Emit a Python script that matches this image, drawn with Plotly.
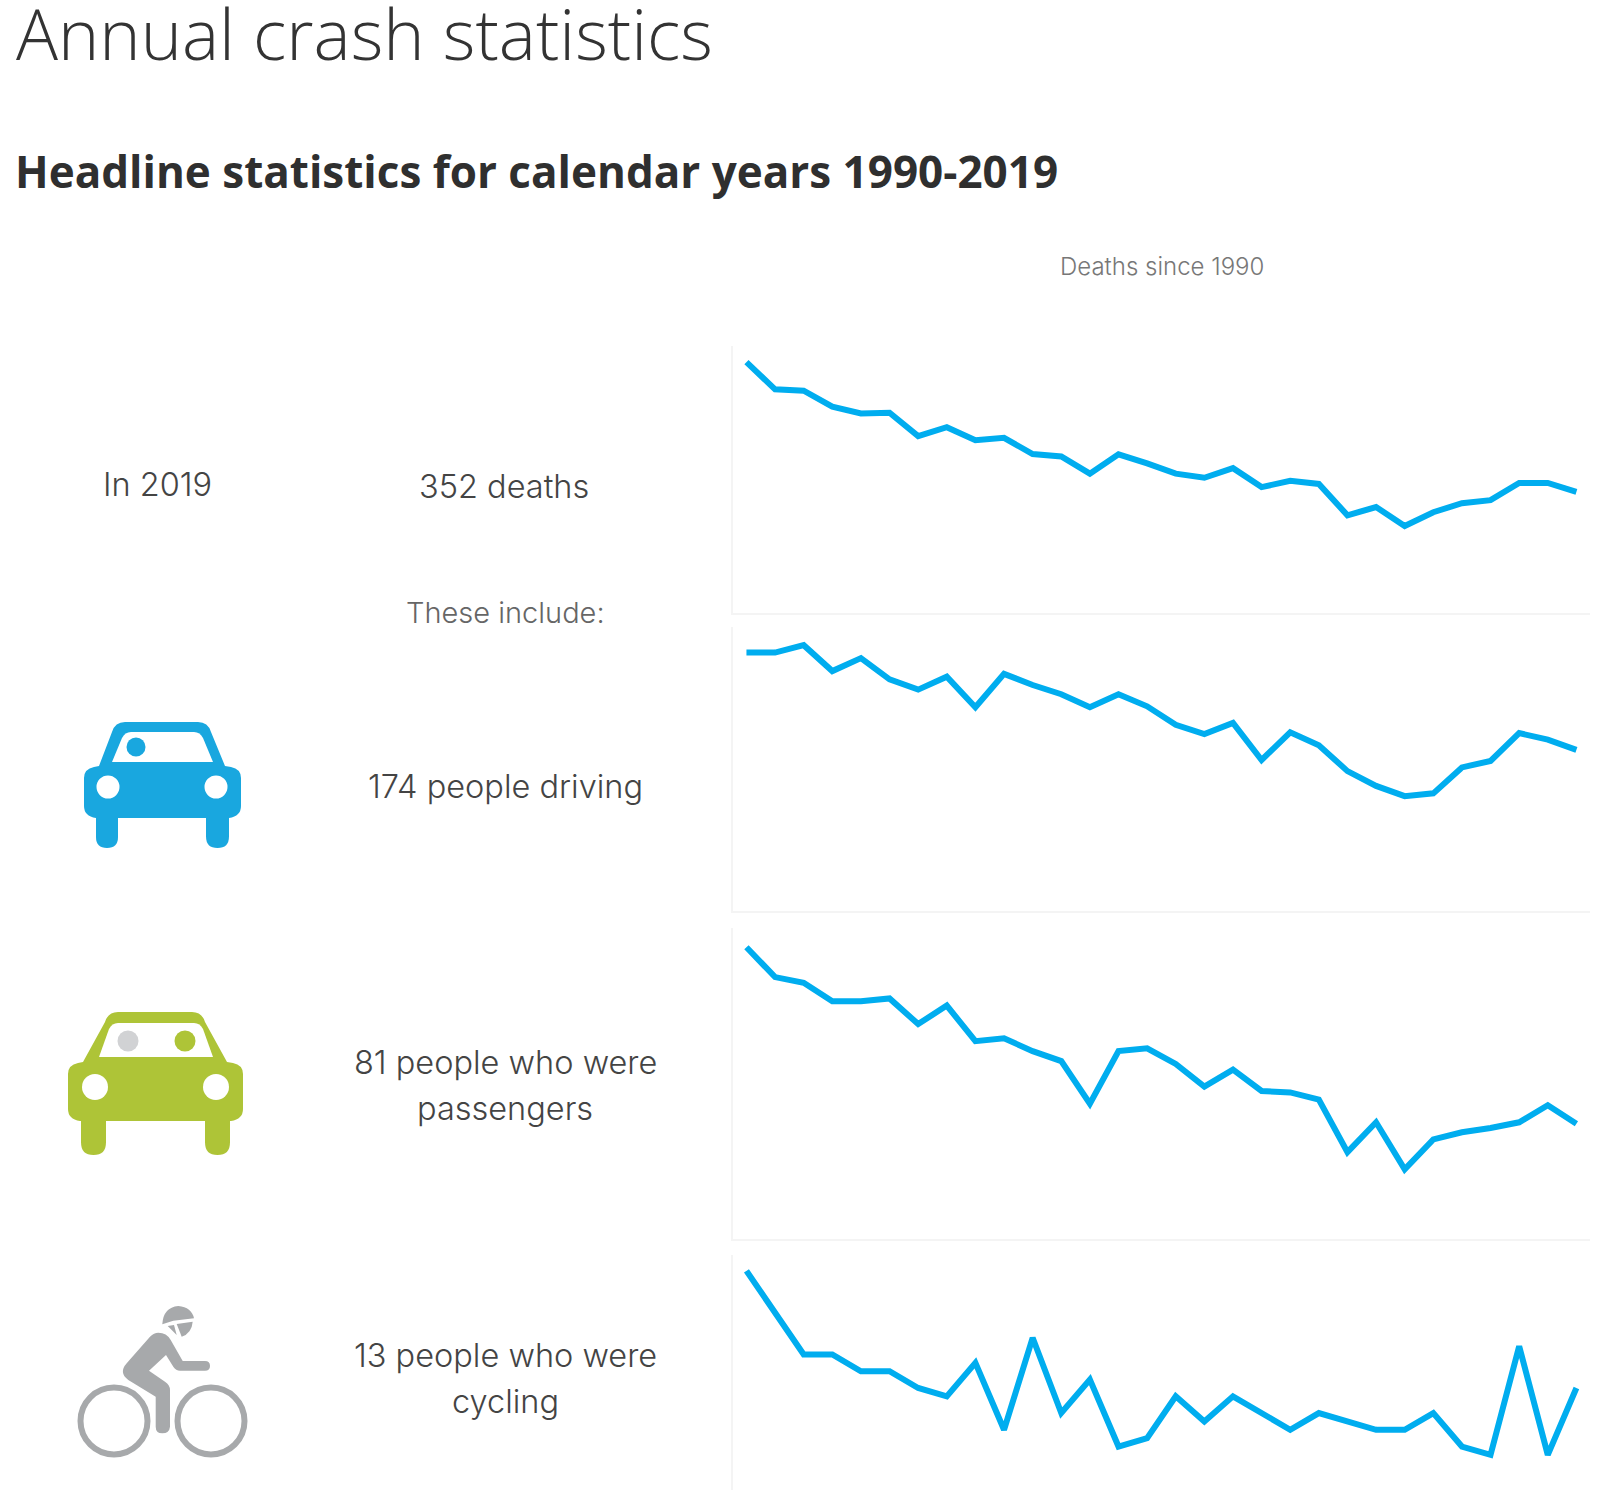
import plotly.graph_objects as go

W, H = 1619, 1490

years = list(range(1990, 2020))
deaths_all = [729, 650, 646, 600, 580, 582, 514, 540, 502, 509, 462, 455, 405, 461, 435,
              405, 393, 421, 366, 384, 375, 284, 308, 253, 293, 319, 328, 378, 378, 352]
deaths_drivers = [279, 279, 287, 259, 273, 250, 239, 253, 220, 256, 244, 234, 220, 234, 221,
                  201, 191, 203, 163, 193, 179, 151, 135, 124, 127, 155, 162, 192, 185, 174]
deaths_passengers = [205, 184, 180, 167, 167, 169, 151, 164, 139, 141, 132, 125, 95, 132, 134,
                     123, 107, 119, 104, 103, 98, 61, 82, 49, 70, 75, 78, 82, 94, 81]
deaths_cyclists = [27, 22, 17, 17, 15, 15, 13, 12, 16, 8, 19, 10, 14, 6, 7,
                   12, 9, 12, 10, 8, 10, 9, 8, 8, 10, 6, 5, 18, 5, 13]

series = [deaths_all, deaths_drivers, deaths_passengers, deaths_cyclists]
# top px, bottom px, y range
panels = [(346, 613, [0, 776]), (627, 911, [0, 306.6]), (928, 1239, [0, 218.5]), (1255, 1490, [0.8, 28.9])]

LINE = '#00ADEF'
GRID = '#f4f4f4'
TEXT = '#444444'
BLUE = '#19A7DF'
GREEN = '#AEC437'
GREY = '#A7A9AB'

fig = go.Figure()
for i, (vals, p) in enumerate(zip(series, panels)):
    n = i + 1
    fig.add_trace(go.Scatter(x=years, y=vals, mode='lines', xaxis=f'x{n}', yaxis=f'y{n}',
                             line=dict(color=LINE, width=6), hoverinfo='x+y', showlegend=False))
    top, bottom, yr = p
    fig.update_layout({
        f'xaxis{n}': dict(domain=[733 / W, 1590 / W], range=[1989.53, 2019.475], anchor=f'y{n}',
                          showgrid=False, zeroline=False, showticklabels=False, ticks='',
                          showline=i < 3, linecolor=GRID, linewidth=1.5),
        f'yaxis{n}': dict(domain=[1 - bottom / H, 1 - top / H], range=yr, anchor=f'x{n}',
                          showgrid=False, zeroline=False, showticklabels=False, ticks='',
                          showline=True, linecolor=GRID, linewidth=1.5),
    })

# px overlay for the icons and texts
fig.add_trace(go.Scatter(x=[0], y=[0], xaxis='x5', yaxis='y5', mode='markers', opacity=0,
                         hoverinfo='skip', showlegend=False))
fig.update_layout(
    xaxis5=dict(domain=[0, 1], range=[0, W], visible=False, anchor='y5'),
    yaxis5=dict(domain=[0, 1], range=[H, 0], visible=False, anchor='x5'),
)


def shape(path, fill):
    fig.add_shape(type='path', path=path, xref='x5', yref='y5', fillcolor=fill, line_width=0, layer='above')


def circle(cx, cy, r, fill=None, line=None, width=0):
    fig.add_shape(type='circle', xref='x5', yref='y5', x0=cx - r, x1=cx + r, y0=cy - r, y1=cy + r,
                  fillcolor=fill if fill else 'rgba(0,0,0,0)', line=dict(color=line, width=width), layer='above')


def car(col, x0, x1, yb0, yb1, rtop, rx0, rx1, lx0, lx1, wy, wx0, wx1, wtx0, wtx1, wtop,
        lights_y, light_r, lxa, lxb, wh, wheel_bottom):
    # wheels
    for a, b in wh:
        r = (b - a) / 2
        shape(f'M{a},{yb1 - 5} L{a},{wheel_bottom - r} Q{a},{wheel_bottom} {a + r},{wheel_bottom} '
              f'Q{b},{wheel_bottom} {b},{wheel_bottom - r} L{b},{yb1 - 5} Z', col)
    # body and roof
    shape(f'M{x0 + 10},{yb0 + 1} L{lx0},{yb0} L{rx0 - 3},{rtop + 10} Q{rx0},{rtop} {rx0 + 10},{rtop} '
          f'L{rx1 - 10},{rtop} Q{rx1},{rtop} {rx1 + 3},{rtop + 10} L{lx1},{yb0} L{x1 - 10},{yb0 + 1} '
          f'Q{x1},{yb0 + 3} {x1},{yb0 + 12} L{x1},{yb1 - 12} Q{x1},{yb1 - 2} {x1 - 12},{yb1} '
          f'L{x0 + 12},{yb1} Q{x0},{yb1 - 2} {x0},{yb1 - 12} L{x0},{yb0 + 12} Q{x0},{yb0 + 3} {x0 + 10},{yb0 + 1} Z', col)
    # windscreen
    shape(f'M{wx0},{wy} L{wtx0 - 3},{wtop + 6} Q{wtx0},{wtop} {wtx0 + 6},{wtop} L{wtx1 - 6},{wtop} '
          f'Q{wtx1},{wtop} {wtx1 + 3},{wtop + 6} L{wx1},{wy} Z', 'white')
    circle(lxa, lights_y, light_r, fill='white')
    circle(lxb, lights_y, light_r, fill='white')


car(BLUE, 84, 241, 766, 818, 722, 115, 208, 99, 225, 762, 112, 213, 125, 200, 732,
    787, 11.5, 108, 216, [(96, 118), (206, 229)], 848)
circle(136, 747, 9.5, fill=BLUE)

car(GREEN, 68, 243, 1062, 1121, 1012, 108, 202, 83, 227, 1057, 99, 213, 112, 200, 1023,
    1087, 13, 95, 216, [(81, 106), (205, 230)], 1155)
circle(128, 1041, 10.5, fill='#D1D2D4')
circle(185, 1041, 10.5, fill=GREEN)

# bike
circle(114, 1421, 33.5, line=GREY, width=6)
circle(211, 1421, 33.5, line=GREY, width=6)


def z(x, y):
    return f'{x / 3:.1f},{y / 3 + 1280:.1f}'


shape('M' + z(475, 158) + ' Q' + z(500, 158) + ' ' + z(512, 180) + ' L' + z(548, 243) + ' L' + z(615, 243)
      + ' Q' + z(630, 243) + ' ' + z(630, 258) + ' Q' + z(630, 272) + ' ' + z(615, 272) + ' L' + z(540, 272)
      + ' Q' + z(528, 272) + ' ' + z(520, 260) + ' L' + z(498, 225) + ' L' + z(447, 272) + ' L' + z(495, 305)
      + ' Q' + z(510, 315) + ' ' + z(510, 330) + ' L' + z(510, 440) + ' Q' + z(508, 460) + ' ' + z(487, 460)
      + ' Q' + z(467, 460) + ' ' + z(467, 440) + ' L' + z(467, 350) + ' L' + z(385, 300)
      + ' Q' + z(355, 278) + ' ' + z(380, 250) + ' L' + z(450, 170) + ' Q' + z(462, 158) + ' ' + z(475, 158) + ' Z', GREY)
shape('M' + z(487, 133) + ' Q' + z(490, 82) + ' ' + z(535, 78) + ' Q' + z(575, 82) + ' ' + z(582, 115)
      + ' L' + z(520, 122) + ' Z', GREY)
shape('M' + z(530, 132) + ' L' + z(578, 125) + ' Q' + z(575, 160) + ' ' + z(545, 170) + ' Z', GREY)
shape('M' + z(503, 138) + ' L' + z(522, 135) + ' L' + z(530, 165) + ' Z', GREY)


def label(x, y, s, size=32.5, color=TEXT, family='Inter', weight=300, anchor='center'):
    fig.add_annotation(x=x, y=y, xref='x5', yref='y5', text=s, showarrow=False, xanchor=anchor, yanchor='middle',
                       font=dict(size=size, color=color, family=family, weight=weight))


label(14, 33, 'Annual crash statistics', size=70, color='#333333', family='Open Sans', anchor='left')
label(13, 171, 'Headline statistics for calendar years 1990-2019', size=44, color='#2f2f2f', family='Open Sans',
      weight=700, anchor='left')
label(1162, 266, 'Deaths since 1990', size=24, color='#777777')
label(157, 484, 'In 2019')
label(504, 486, '352 deaths')
label(505, 612, 'These include:', size=29, color='#666666')
label(505, 786, '174 people driving')
label(505, 1062, '81 people who were')
label(505, 1108, 'passengers')
label(505, 1355, '13 people who were')
label(505, 1401, 'cycling')

fig.update_layout(width=W, height=H, margin=dict(l=0, r=0, t=0, b=0), paper_bgcolor='white',
                  plot_bgcolor='rgba(0,0,0,0)')
fig.write_html("out.html", config=dict(displayModeBar=False), post_script="document.body.style.margin='0';")
